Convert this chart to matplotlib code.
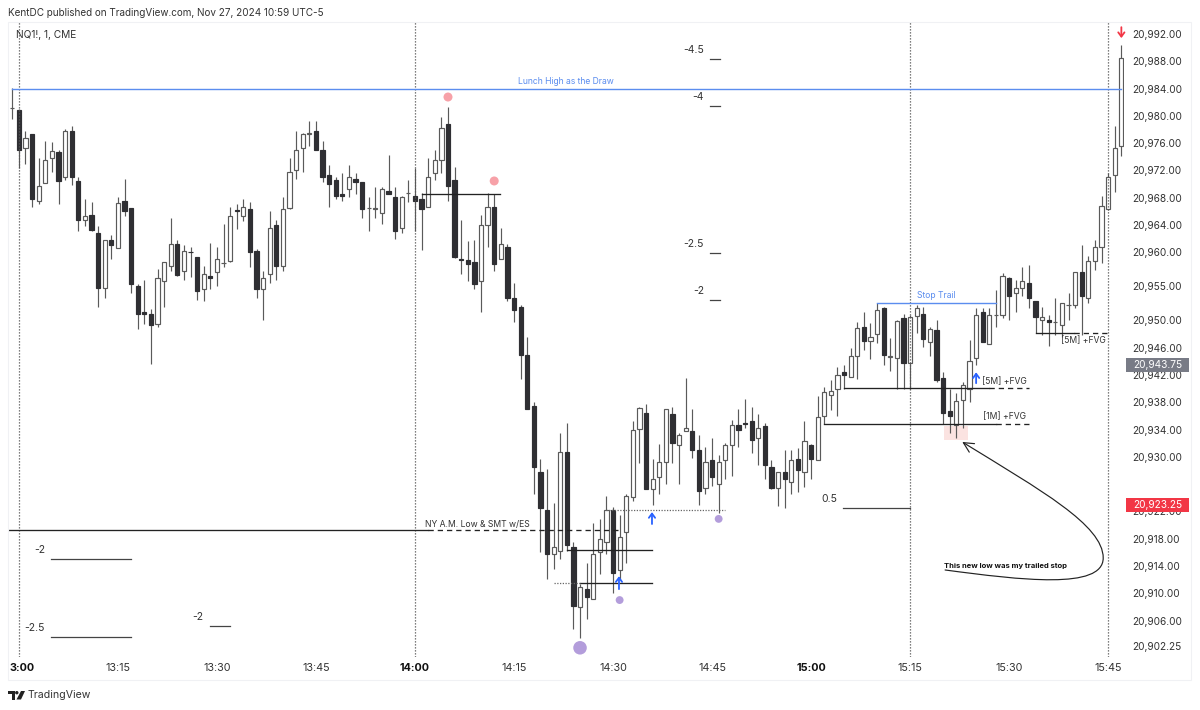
from matplotlib.patches import Rectangle, Polygon, Circle, FancyArrowPatch
from matplotlib.path import Path
from matplotlib.transforms import blended_transform_factory
import matplotlib.pyplot as plt
import numpy as np

plt.rcParams["font.family"] = ["Inter", "DejaVu Sans"]

BASE = 20000
# one minute bars, prices minus BASE
opens = [981.1, 980.85, 975.3, 977.3, 967.55, 970.2, 973.75, 974.75, 971.05, 977.75,
         970.5, 964.75, 965.5, 962.8, 954.8, 961.75, 960.55, 967.55, 966.5, 955.05,
         951.2, 951.0, 949.45, 955.75, 958.05, 961.25, 957.3, 960.05, 959.3, 954.55,
         956.45, 957.05, 958.35, 958.75, 966.2, 965.25, 966.3, 960.25, 954.55, 956.75,
         964.0, 958.05, 966.5, 972.05, 975.3, 977.4, 977.8, 975.0, 971.3, 970.55,
         968.5, 969.3, 970.8, 970.25, 966.45, 966.4, 965.7, 969.0, 968.05, 963.55,
         968.65, 968.3, 967.8, 966.6, 971.55, 973.5, 978.75, 970.55, 959.0, 958.8,
         958.55, 955.8, 964.05, 966.6, 959.05, 960.75, 953.3, 952.0, 945.0, 937.45,
         927.75, 922.2, 915.75, 916.25, 930.7, 916.75, 908.0, 910.6, 909.2, 916.0,
         917.45, 922.2, 913.4, 919.0, 924.05, 934.05, 936.5, 925.3, 927.0, 929.3,
         936.3, 931.8, 933.75, 933.75, 931.0, 925.5, 929.5, 926.0, 929.55, 931.8,
         934.7, 935.0, 935.2, 932.75, 934.5, 928.45, 925.5, 927.75, 926.25, 929.7,
         927.75, 931.75, 929.5, 936.0, 939.0, 940.0, 942.5, 941.75, 944.8, 949.1,
         947.0, 948.0, 951.8, 944.7, 944.45, 950.3, 943.7, 950.7, 951.0, 946.8,
         948.55, 941.5, 936.75, 934.65, 938.3, 940.0, 944.55, 951.25, 946.5, 950.75,
         950.75, 956.25, 954.0, 954.75, 955.55, 952.8, 950.0, 950.0, 949.8, 949.3,
         952.25, 952.25, 957.05, 953.3, 958.75, 960.75, 966.3, 971.3, 975.6]
highs = [984.1, 980.95, 977.8, 977.35, 973.75, 976.35, 976.1, 975.0, 978.0, 978.55,
         971.0, 967.8, 967.3, 963.85, 961.75, 962.5, 968.1, 970.8, 966.5, 955.4,
         956.0, 951.75, 957.5, 958.55, 965.0, 961.75, 961.0, 960.8, 959.3, 958.05,
         961.3, 960.8, 964.1, 966.6, 967.05, 967.8, 967.3, 960.45, 957.3, 966.1,
         964.7, 968.1, 973.75, 977.75, 977.5, 979.3, 979.3, 976.3, 972.8, 971.05,
         971.55, 972.8, 971.55, 970.25, 968.05, 969.55, 969.5, 974.25, 969.5, 968.3,
         970.55, 972.3, 968.65, 973.75, 975.0, 979.8, 981.35, 972.55, 964.8, 961.6,
         961.85, 965.5, 968.75, 968.55, 963.55, 961.25, 955.55, 952.25, 947.55, 938.05,
         929.75, 928.25, 923.2, 933.55, 935.0, 917.45, 911.35, 914.4, 920.25, 920.95,
         924.25, 922.7, 921.45, 924.5, 935.25, 937.3, 937.75, 929.75, 931.85, 937.0,
         937.3, 933.45, 941.5, 937.0, 933.25, 931.5, 932.75, 930.25, 932.0, 935.4,
         937.0, 938.5, 937.25, 936.25, 935.0, 929.5, 927.75, 931.0, 931.0, 931.25,
         935.25, 931.9, 938.9, 940.3, 941.25, 943.2, 943.45, 946.0, 949.8, 951.3,
         949.6, 952.6, 951.9, 947.4, 950.0, 951.0, 950.8, 952.25, 952.0, 949.1,
         950.0, 942.5, 940.0, 939.3, 941.0, 947.2, 951.8, 951.8, 951.8, 954.45,
         956.9, 956.4, 955.9, 957.8, 958.1, 952.8, 952.0, 950.8, 953.35, 952.6,
         954.05, 957.15, 961.0, 959.45, 961.8, 968.3, 971.65, 978.55, 990.35]
lows = [979.6, 972.4, 973.0, 966.6, 967.05, 970.2, 971.8, 967.05, 970.6, 969.85,
        963.1, 963.85, 963.15, 952.0, 953.3, 959.05, 960.55, 965.35, 954.05, 948.8,
        949.55, 943.55, 949.0, 952.0, 957.3, 956.55, 956.0, 956.3, 953.0, 952.85,
        954.55, 955.05, 957.8, 958.55, 963.35, 964.55, 957.85, 953.3, 950.05, 955.5,
        956.0, 957.3, 966.3, 970.8, 971.8, 975.6, 975.0, 970.35, 966.6, 967.8,
        967.55, 968.05, 968.6, 965.05, 963.1, 965.05, 964.1, 968.55, 961.9, 962.85,
        967.3, 963.1, 960.3, 966.6, 970.6, 971.55, 967.55, 959.1, 956.8, 955.8,
        954.55, 951.3, 960.8, 957.3, 959.05, 952.9, 949.8, 941.35, 936.95, 924.55,
        916.05, 912.1, 913.5, 915.0, 916.25, 904.8, 903.5, 906.2, 909.2, 912.8,
        915.75, 910.0, 911.95, 914.5, 923.55, 929.05, 925.3, 923.0, 924.55, 926.0,
        929.05, 926.0, 933.75, 929.8, 923.0, 924.55, 925.75, 921.8, 926.75, 927.25,
        931.5, 934.25, 930.5, 928.75, 926.75, 925.3, 922.8, 922.55, 924.55, 924.8,
        925.65, 926.8, 929.5, 934.75, 936.9, 936.0, 940.0, 941.75, 941.35, 945.65,
        944.4, 946.65, 943.45, 942.6, 940.0, 940.0, 940.0, 948.1, 946.15, 944.8,
        941.0, 934.75, 933.55, 932.8, 934.25, 938.1, 943.5, 946.8, 946.5, 949.0,
        950.3, 950.05, 951.3, 953.65, 951.8, 948.1, 947.85, 946.3, 947.85, 947.6,
        950.05, 951.8, 947.85, 952.6, 957.4, 958.35, 966.2, 968.85, 974.1]
closes = [981.1, 975.0, 976.8, 967.8, 969.75, 973.5, 974.8, 970.5, 977.75, 971.05,
          964.75, 965.25, 963.25, 954.8, 961.75, 961.0, 967.25, 966.1, 955.3, 951.0,
          951.0, 949.3, 956.25, 958.55, 961.25, 956.7, 960.25, 960.0, 954.3, 956.75,
          956.25, 959.05, 958.35, 965.25, 966.1, 966.6, 960.0, 954.55, 956.25, 963.5,
          958.0, 966.3, 971.8, 975.0, 977.35, 977.4, 975.0, 971.05, 970.05, 968.3,
          968.3, 971.0, 970.3, 966.35, 966.45, 966.4, 969.25, 968.55, 963.05, 968.05,
          968.65, 967.55, 966.35, 971.0, 973.5, 978.25, 969.75, 959.25, 958.8, 958.3,
          955.3, 964.05, 966.6, 958.3, 961.25, 953.3, 951.5, 945.0, 937.0, 928.45,
          922.45, 915.75, 916.75, 930.7, 917.0, 908.2, 910.9, 909.45, 915.75, 918.0,
          922.2, 913.0, 918.2, 924.3, 934.0, 937.2, 925.3, 926.7, 929.25, 937.0,
          932.0, 933.25, 934.25, 931.0, 925.0, 929.25, 927.0, 929.25, 931.75, 934.7,
          934.0, 934.75, 932.5, 934.25, 928.75, 925.5, 927.75, 926.75, 929.5, 928.1,
          932.25, 929.75, 935.8, 939.45, 939.7, 942.0, 942.0, 944.8, 948.85, 947.0,
          947.5, 951.5, 945.0, 944.7, 949.85, 943.75, 950.55, 951.8, 947.25, 948.8,
          941.25, 936.5, 936.0, 938.25, 940.5, 944.05, 950.75, 946.8, 950.75, 950.75,
          956.5, 953.6, 954.75, 955.75, 953.3, 950.55, 950.55, 949.8, 949.8, 952.5,
          952.25, 957.05, 953.6, 958.75, 960.75, 966.85, 971.0, 975.3, 988.45]

price_ticks = [20992, 20988, 20984, 20980, 20976, 20972, 20968, 20964, 20960, 20955, 20950,
               20946, 20942, 20938, 20934, 20930, 20922, 20918, 20914, 20910, 20906, 20902.25]
time_pos = [1.45, 16, 31, 46, 61, 76, 91, 106, 121, 136, 151, 166]
time_labels = ["3:00", "13:15", "13:30", "13:45", "14:00", "14:15", "14:30", "14:45",
               "15:00", "15:15", "15:30", "15:45"]
bold_times = ["3:00", "14:00", "15:00"]
session_breaks = [1, 61, 136, 166]

# (label, start bar, end bar, price)
fib_levels = [("-4.5", 105.7, 107.2, 20988.33), ("-4", 105.7, 107.2, 20981.44),
              ("-2.5", 105.7, 107.2, 20959.9), ("-2", 105.7, 107.2, 20953.0),
              ("0.5", 125.9, 136, 20922.5), ("-2", 5.9, 18, 20915.0),
              ("-2.5", 5.9, 18, 20903.6), ("-2", 29.95, 33, 20905.2)]
# (solid start, solid end, dashed end, price)
black_levels = [(62, 73.9, None, 20968.6), (-1, 62.9, 92, 20919.2),
                (84, 96.9, None, 20916.35), (86, 96.9, None, 20911.5),
                (126, 148, 154, 20940.1), (123, 149, 154, 20934.8),
                (155, 160.8, 166, 20948.15)]
dotted_levels = [(82, 86, 20911.5), (90, 108, 20922.2)]
blue_levels = [(0, 168, 20983.9), (131, 149, 20952.55)]
pink_dots = ([66, 73], [20982.76, 20970.45], [42, 42])
purple_dots = ([86, 92, 107], [20902, 20909, 20920.9], [95, 32, 32])
blue_arrows = [(96.9, 20920.15, 20921.9), (91.9, 20910.6, 20912.5), (146, 20940.8, 20942.4)]
labels = [("Lunch High as the Draw", 83.9, 20985.1, "#5b8def"),
          ("Stop Trail", 140, 20953.6, "#5b8def"),
          ("NY A.M. Low & SMT w/ES", 70.4, 20920.15, "#333333"),
          ("[5M] +FVG", 150.25, 20941.1, "#333333"),
          ("[1M] +FVG", 150.25, 20935.85, "#333333"),
          ("[5M] +FVG", 162.2, 20947.0, "#333333")]
# (text, centre price, colour)
price_tags = [("20,943.75", 20943.47, "#787b86"), ("20,923.25", 20922.94, "#f23645")]

fig = plt.figure(figsize=(12, 7.1), dpi=100, facecolor="white")
ax = fig.add_axes([8 / 1200, (710 - 657) / 710, 1116 / 1200, 635 / 710])
ax.set_xlim(-0.65, 168.4)
ax.set_ylim(20900.65, 20993.76)
for s in ax.spines.values():
    s.set_visible(False)

fig.add_artist(Rectangle((8 / 1200, 30 / 710), 1183 / 1200, 658 / 710, transform=fig.transFigure,
                         fill=False, ec="#f0f1f4", lw=0.8))

# candles
o = BASE + np.array(opens)
h = BASE + np.array(highs)
l = BASE + np.array(lows)
c = BASE + np.array(closes)
x = np.arange(len(o))
down = c < o
ax.add_patch(Rectangle((141.2, 20932.47), 3.6, 2.03, fc="#fbe3e1", ec="none", zorder=1))
ax.vlines(x, l, h, color="#5a5a5a", lw=0.85, zorder=2)
ax.bar(x, np.maximum(np.abs(c - o), 0.02), bottom=np.minimum(o, c), width=0.64,
       color=np.where(down, "#2f2f33", "white"), edgecolor=np.where(down, "#2f2f33", "#5a5a5a"),
       linewidth=0.85, zorder=3)

for b in session_breaks:
    ax.axvline(b, color="#555555", lw=0.9, ls=(0, (1, 1.4)), zorder=4)

# drawings
for text, x0, x1, p in fib_levels:
    ax.plot([x0, x1], [p, p], color="#444444", lw=0.9, zorder=4)
    ax.annotate(text, (x0, p), xytext=(-4.5, 6.5), textcoords="offset points",
                ha="right", va="center", fontsize=7.5, color="#333333")
for x0, x1, x2, p in black_levels:
    ax.plot([x0, x1], [p, p], color="#222222", lw=0.95, zorder=5)
    if x2 is not None:
        ax.plot([x1, x2], [p, p], color="#222222", lw=0.95, ls=(0, (4, 3)), zorder=5)
for x0, x1, p in dotted_levels:
    ax.plot([x0, x1], [p, p], color="#666666", lw=0.9, ls=(0, (1, 1.2)), zorder=5)
for x0, x1, p in blue_levels:
    ax.plot([x0, x1], [p, p], color="#5b8def", lw=1.0, zorder=5)
ax.scatter(pink_dots[0], pink_dots[1], s=pink_dots[2], color="#f7a1a8", lw=0, zorder=6)
ax.scatter(purple_dots[0], purple_dots[1], s=purple_dots[2], color="#b39ddb", lw=0, zorder=6)
for bar, p0, p1 in blue_arrows:
    ax.annotate("", (bar, p1), (bar, p0), zorder=6,
                arrowprops=dict(arrowstyle="->,head_width=0.28,head_length=0.38", color="#2962ff",
                                lw=1.3, shrinkA=0, shrinkB=0, mutation_scale=8))
ax.annotate("", (168, 20991.4), (168, 20993), zorder=6,
            arrowprops=dict(arrowstyle="->,head_width=0.28,head_length=0.38", color="#f23645",
                            lw=1.3, shrinkA=0, shrinkB=0, mutation_scale=8))
for text, bar, p, col in labels:
    ax.text(bar, p, text, ha="center", va="center", fontsize=6.2, color=col, zorder=7)
ax.text(150.5, 20914, "This new low was my trailed stop", ha="center", va="center",
        fontsize=5.5, fontweight="bold", color="#111111", zorder=7)

curve = Path([(141.3, 20913.41), (152.7, 20911.94), (165.25, 20910.47), (165.25, 20915.17),
              (165.25, 20920.0), (155.7, 20925.14), (143.9, 20932.18)],
             [Path.MOVETO, Path.CURVE4, Path.CURVE4, Path.CURVE4, Path.CURVE4, Path.CURVE4, Path.CURVE4])
ax.add_patch(FancyArrowPatch(path=curve, arrowstyle="->,head_width=0.3,head_length=0.6", mutation_scale=12,
                             lw=0.85, color="#222222", transform=ax.transData, zorder=6))

# axes
ax.yaxis.tick_right()
ax.set_yticks(price_ticks)
ax.set_yticklabels([f"{t:,.2f}" for t in price_ticks])
ax.tick_params(axis="y", length=0, pad=6.2, labelsize=7.3, labelcolor="#333333")
ax.set_xticks(time_pos)
ax.set_xticklabels(time_labels)
ax.tick_params(axis="x", length=0, pad=4.5, labelsize=7.8, labelcolor="#333333")
for lab in ax.get_xticklabels():
    if lab.get_text() in bold_times:
        lab.set_fontweight("bold")
        lab.set_color("#111111")

tr = blended_transform_factory(ax.transAxes, ax.transData)
for text, p, col in price_tags:
    ax.add_patch(Rectangle((1.0018, p - 1.05), 0.0565, 2.1, transform=tr, fc=col, ec="none",
                           clip_on=False, zorder=8))
    ax.text(1.030, p, text, transform=tr, ha="center", va="center", fontsize=7.3, color="white", zorder=9)

# header and footer
fig.text(8 / 1200, 1 - 13 / 710, "KentDC published on TradingView.com, Nov 27, 2024 10:59 UTC-5",
         ha="left", va="center", fontsize=7.15, color="#333333")
fig.text(16 / 1200, 1 - 35 / 710, "NQ1!, 1, CME", ha="left", va="center", fontsize=7.3, color="#333333")
fig.text(28 / 1200, 1 - 695 / 710, "TradingView", ha="left", va="center", fontsize=7.6, color="#333333")

logo = fig.add_axes([8 / 1200, (710 - 700) / 710, 17 / 1200, 9 / 710])
logo.set_xlim(0, 17)
logo.set_ylim(9, 0)
logo.axis("off")
logo.add_patch(Polygon([(0, 0), (7, 0), (7, 8.5), (3.5, 8.5), (3.5, 3.2), (0, 3.2)], fc="#222222"))
logo.add_patch(Circle((8.8, 1.7), 1.7, fc="#222222"))
logo.add_patch(Polygon([(13, 0), (17, 0), (13, 8.5), (8.5, 8.5)], fc="#222222"))

fig.savefig("out.png", dpi=100)
